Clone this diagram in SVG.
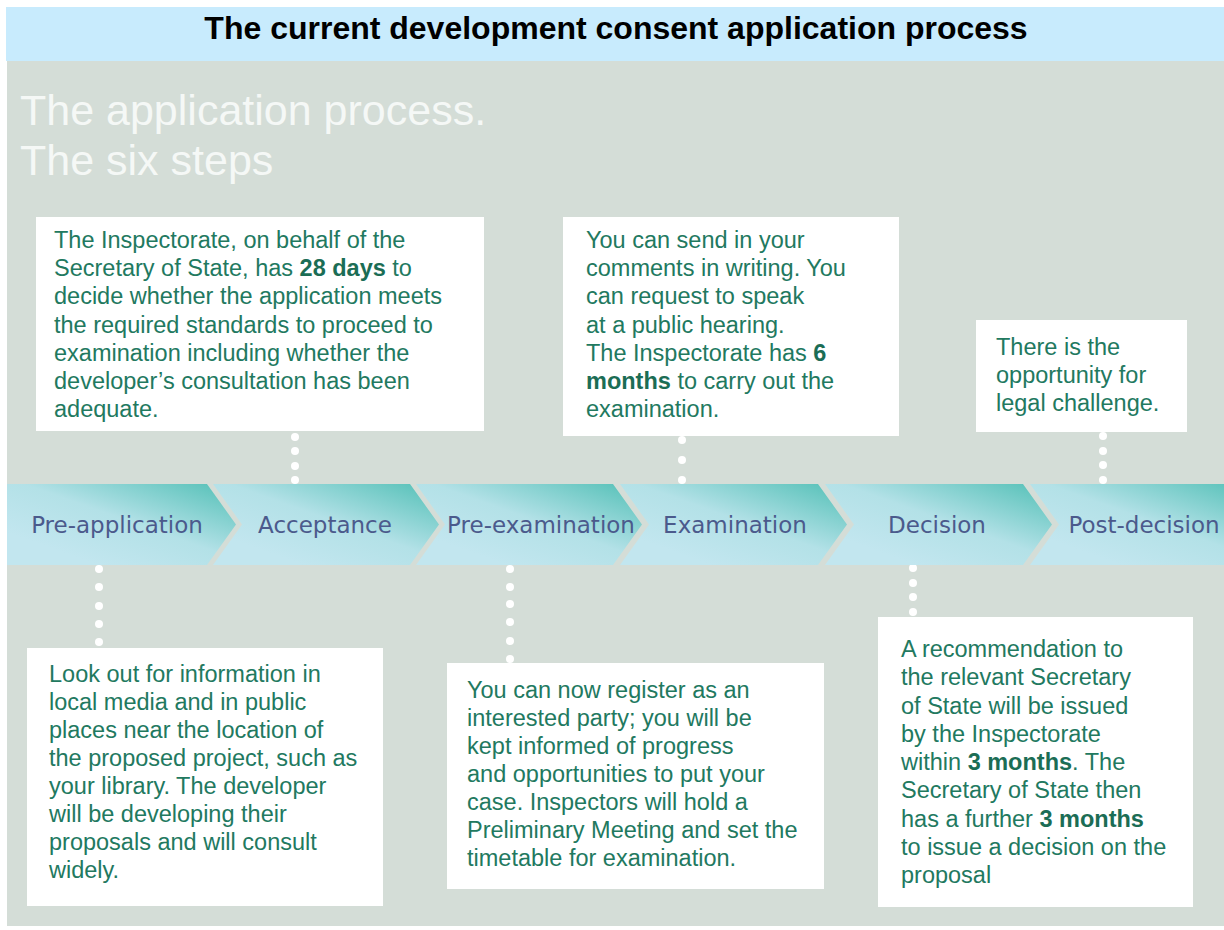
<svg xmlns="http://www.w3.org/2000/svg" width="1224" height="930" viewBox="0 0 1224 930">
  <defs>
    <linearGradient id="stepFill" x1="0.25" y1="0.85" x2="1" y2="0.1">
      <stop offset="0" stop-color="#c2e6ef"/>
      <stop offset="0.45" stop-color="#b3e1e7"/>
      <stop offset="1" stop-color="#5cc3bb"/>
    </linearGradient>
    <style>
      .panel { fill: #d4ddd7; }
      .band { fill: #c8ebfd; }
      .title { font-family: "Liberation Sans", Arial, sans-serif; font-weight: bold; font-size: 32px; fill: #000; }
      .subtitle { font-family: "Liberation Sans", Arial, sans-serif; font-size: 43px; fill: #f5f8f6; }
      .step { fill: url(#stepFill); }
      .steplabel { font-family: "DejaVu Sans", Verdana, sans-serif; font-size: 23px; fill: #4b5a8c; text-anchor: middle; }
      .card { fill: #ffffff; }
      .body { font-family: "Liberation Sans", Arial, sans-serif; font-size: 23.5px; fill: #22795f; }
      .body .b { font-weight: bold; fill: #1b6d55; }
      .dot { fill: #ffffff; }
    </style>
  </defs>

  <!-- header band and grey panel -->
  <rect class="band" x="6" y="7" width="1218" height="54"/>
  <text class="title" x="616" y="39" text-anchor="middle">The current development consent application process</text>
  <rect class="panel" x="7" y="61" width="1217" height="865"/>

  <text class="subtitle" x="20" y="125">The application process.</text>
  <text class="subtitle" x="20" y="175">The six steps</text>

  <!-- dotted leaders between the cards and the steps -->
  <g id="connectors">
    <!-- Acceptance -->
    <circle class="dot" cx="295" cy="437" r="4"/>
    <circle class="dot" cx="295" cy="451" r="4"/>
    <circle class="dot" cx="295" cy="466" r="4"/>
    <circle class="dot" cx="295" cy="480" r="4"/>
    <!-- Examination -->
    <circle class="dot" cx="682" cy="440" r="4"/>
    <circle class="dot" cx="682" cy="460" r="4"/>
    <circle class="dot" cx="682" cy="480" r="4"/>
    <!-- Post-decision -->
    <circle class="dot" cx="1103" cy="436" r="4"/>
    <circle class="dot" cx="1103" cy="451" r="4"/>
    <circle class="dot" cx="1103" cy="465" r="4"/>
    <circle class="dot" cx="1103" cy="480" r="4"/>
    <!-- Pre-application -->
    <circle class="dot" cx="99" cy="569" r="4"/>
    <circle class="dot" cx="99" cy="587" r="4"/>
    <circle class="dot" cx="99" cy="606" r="4"/>
    <circle class="dot" cx="99" cy="624" r="4"/>
    <circle class="dot" cx="99" cy="642" r="4"/>
    <!-- Pre-examination -->
    <circle class="dot" cx="510" cy="569" r="4"/>
    <circle class="dot" cx="510" cy="587" r="4"/>
    <circle class="dot" cx="510" cy="604" r="4"/>
    <circle class="dot" cx="510" cy="622" r="4"/>
    <circle class="dot" cx="510" cy="641" r="4"/>
    <circle class="dot" cx="510" cy="659" r="4"/>
    <!-- Decision -->
    <circle class="dot" cx="913" cy="568" r="4"/>
    <circle class="dot" cx="913" cy="583" r="4"/>
    <circle class="dot" cx="913" cy="597" r="4"/>
    <circle class="dot" cx="913" cy="612" r="4"/>
  </g>

  <!-- the six steps -->
  <g id="step-pre-application">
    <path class="step" d="M7,484 H207 L236,524.5 L207,565 H7 Z"/>
    <text class="steplabel" x="117" y="533">Pre-application</text>
  </g>
  <g id="step-acceptance">
    <path class="step" d="M213,484 H410 L439,524.5 L410,565 H213 L242,524.5 Z"/>
    <text class="steplabel" x="325" y="533">Acceptance</text>
  </g>
  <g id="step-pre-examination">
    <path class="step" d="M416,484 H613 L642,524.5 L613,565 H416 L445,524.5 Z"/>
    <text class="steplabel" x="541" y="533">Pre-examination</text>
  </g>
  <g id="step-examination">
    <path class="step" d="M620,484 H818 L847,524.5 L818,565 H620 L649,524.5 Z"/>
    <text class="steplabel" x="735" y="533">Examination</text>
  </g>
  <g id="step-decision">
    <path class="step" d="M825,484 H1023 L1052,524.5 L1023,565 H825 L854,524.5 Z"/>
    <text class="steplabel" x="937" y="533">Decision</text>
  </g>
  <g id="step-post-decision">
    <path class="step" d="M1030,484 H1228 L1257,524.5 L1228,565 H1030 L1059,524.5 Z"/>
    <text class="steplabel" x="1144" y="533">Post-decision</text>
  </g>

  <!-- cards above the steps -->
  <g id="card-acceptance">
    <rect class="card" x="36" y="217" width="448" height="214"/>
    <text class="body" x="54" y="248">
      <tspan x="54" dy="0">The Inspectorate, on behalf of the</tspan>
      <tspan x="54" dy="28.2">Secretary of State, has <tspan class="b">28 days</tspan> to</tspan>
      <tspan x="54" dy="28.2">decide whether the application meets</tspan>
      <tspan x="54" dy="28.2">the required standards to proceed to</tspan>
      <tspan x="54" dy="28.2">examination including whether the</tspan>
      <tspan x="54" dy="28.2">developer’s consultation has been</tspan>
      <tspan x="54" dy="28.2">adequate.</tspan>
    </text>
  </g>
  <g id="card-examination">
    <rect class="card" x="563" y="217" width="336" height="219"/>
    <text class="body" x="586" y="248">
      <tspan x="586" dy="0">You can send in your</tspan>
      <tspan x="586" dy="28.2">comments in writing. You</tspan>
      <tspan x="586" dy="28.2">can request to speak</tspan>
      <tspan x="586" dy="28.2">at a public hearing.</tspan>
      <tspan x="586" dy="28.2">The Inspectorate has <tspan class="b">6</tspan></tspan>
      <tspan x="586" dy="28.2"><tspan class="b">months</tspan> to carry out the</tspan>
      <tspan x="586" dy="28.2">examination.</tspan>
    </text>
  </g>
  <g id="card-post-decision">
    <rect class="card" x="976" y="320" width="211" height="112"/>
    <text class="body" x="996" y="355">
      <tspan x="996" dy="0">There is the</tspan>
      <tspan x="996" dy="28">opportunity for</tspan>
      <tspan x="996" dy="28">legal challenge.</tspan>
    </text>
  </g>

  <!-- cards below the steps -->
  <g id="card-pre-application">
    <rect class="card" x="27" y="648" width="356" height="258"/>
    <text class="body" x="49" y="682">
      <tspan x="49" dy="0">Look out for information in</tspan>
      <tspan x="49" dy="28">local media and in public</tspan>
      <tspan x="49" dy="28">places near the location of</tspan>
      <tspan x="49" dy="28">the proposed project, such as</tspan>
      <tspan x="49" dy="28">your library. The developer</tspan>
      <tspan x="49" dy="28">will be developing their</tspan>
      <tspan x="49" dy="28">proposals and will consult</tspan>
      <tspan x="49" dy="28">widely.</tspan>
    </text>
  </g>
  <g id="card-pre-examination">
    <rect class="card" x="447" y="663" width="377" height="226"/>
    <text class="body" x="467" y="698">
      <tspan x="467" dy="0">You can now register as an</tspan>
      <tspan x="467" dy="28">interested party; you will be</tspan>
      <tspan x="467" dy="28">kept informed of progress</tspan>
      <tspan x="467" dy="28">and opportunities to put your</tspan>
      <tspan x="467" dy="28">case. Inspectors will hold a</tspan>
      <tspan x="467" dy="28">Preliminary Meeting and set the</tspan>
      <tspan x="467" dy="28">timetable for examination.</tspan>
    </text>
  </g>
  <g id="card-decision">
    <rect class="card" x="878" y="617" width="315" height="290"/>
    <text class="body" x="901" y="657">
      <tspan x="901" dy="0">A recommendation to</tspan>
      <tspan x="901" dy="28.25">the relevant Secretary</tspan>
      <tspan x="901" dy="28.25">of State will be issued</tspan>
      <tspan x="901" dy="28.25">by the Inspectorate</tspan>
      <tspan x="901" dy="28.25">within <tspan class="b">3 months</tspan>. The</tspan>
      <tspan x="901" dy="28.25">Secretary of State then</tspan>
      <tspan x="901" dy="28.25">has a further <tspan class="b">3 months</tspan></tspan>
      <tspan x="901" dy="28.25">to issue a decision on the</tspan>
      <tspan x="901" dy="28.25">proposal</tspan>
    </text>
  </g>
</svg>
